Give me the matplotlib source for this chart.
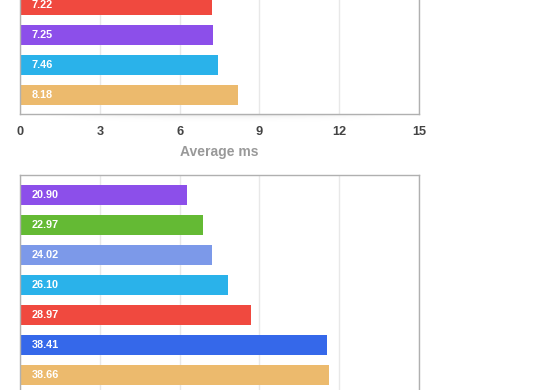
import numpy as np
import matplotlib
matplotlib.use("Agg")
import matplotlib.pyplot as plt

plt.rcParams['font.family'] = ['Liberation Sans', 'DejaVu Sans']

# top chart (only the lower part is visible)
top_vals = [7.22, 7.25, 7.46, 8.18]
top_colors = ["#f0493f", "#8c4fea", "#2ab2ea", "#ecba6d"]
top_ticks = [0, 3, 6, 9, 12, 15]

# bottom chart (only the upper part is visible)
bot_vals = [20.90, 22.97, 24.02, 26.10, 28.97, 38.41, 38.66]
bot_colors = ["#8c4fea", "#64ba34", "#7c99e9", "#2ab2ea", "#f0493f", "#3568ea", "#ecba6d"]
bot_ticks = [0, 10, 20, 30, 40, 50]

W, H = 560, 390
fig = plt.figure(figsize=(W / 100, H / 100), dpi=100)

def px_axes(left, top, right, bottom):
    return fig.add_axes([left / W, 1 - bottom / H, (right - left) / W, (bottom - top) / H])

def style(ax, ticks):
    ax.set_xlim(ticks[0], ticks[-1])
    ax.set_xticks(ticks)
    ax.grid(axis="x", color="#e8e8e8", linewidth=1)
    ax.set_axisbelow(True)
    ax.set_yticks([])
    for s in ax.spines.values():
        s.set_color("#b0b0b0")
        s.set_linewidth(1)
    ax.tick_params(axis="x", length=0)

def bars(ax, vals, colors):
    y = np.arange(len(vals))
    ax.barh(y, vals, height=20 / 30, color=colors)
    for yi, v in zip(y, vals):
        ax.annotate(f"{v:.2f}", (0, yi), xytext=(8.5, 0), textcoords="offset points",
                    color="white", fontsize=7.8, fontweight="bold", va="center", ha="left")

# top chart, axes extends above the figure
ax1 = px_axes(20, -15, 419, 114)
style(ax1, top_ticks)
bars(ax1, top_vals, top_colors)
ax1.set_ylim(len(top_vals) - 1 + 19 / 30, -20 / 30)
ax1.tick_params(axis="x", labelsize=9.2, labelcolor="#444444", pad=8.7)
for t in ax1.get_xticklabels():
    t.set_fontweight("bold")
ax1.set_xlabel("Average ms", fontsize=10, color="#999999", fontweight="bold", labelpad=5)

# soft shadow under the top chart
sh = fig.add_axes([40 / W, 1 - 124 / H, 360 / W, 10 / H])
gx = np.linspace(-1, 1, 200)
gy = np.linspace(0, 1, 20)
X, Y = np.meshgrid(gx, gy)
alpha = np.clip(1 - X ** 2, 0, 1) * np.exp(-4 * Y) * 0.12
img = np.zeros((20, 200, 4))
img[..., 3] = alpha
sh.imshow(img, aspect="auto", extent=[0, 1, 1, 0])
sh.axis("off")
sh.set_zorder(-1)

# bottom chart, axes extends below the figure
ax2 = px_axes(20, 175, 419, 410)
style(ax2, bot_ticks)
bars(ax2, bot_vals, bot_colors)
ax2.set_ylim(len(bot_vals) - 1 + 35 / 30, -20 / 30)
ax2.set_xticklabels([])

fig.savefig("out.png", dpi=100)
